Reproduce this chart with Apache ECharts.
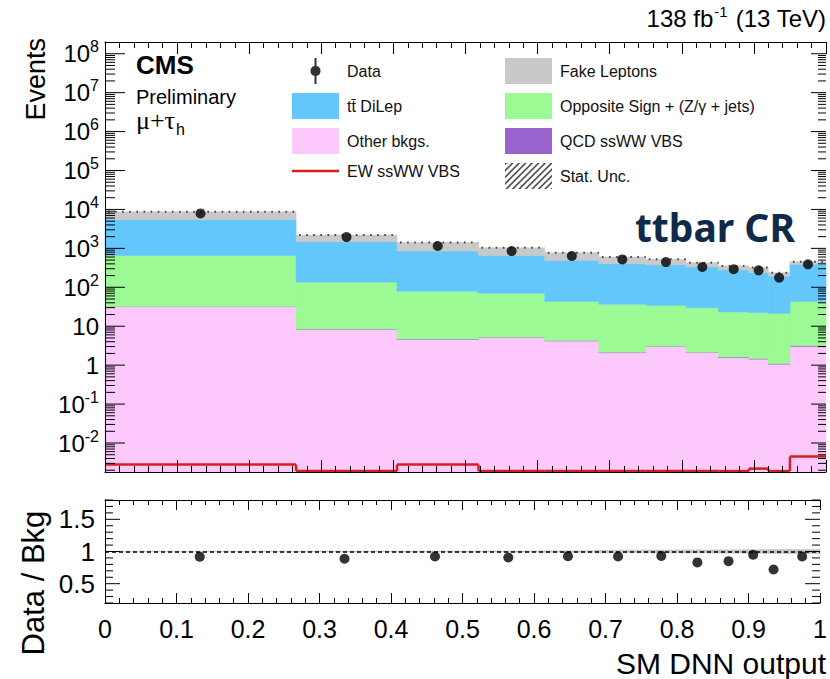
<!DOCTYPE html>
<html><head><meta charset="utf-8">
<script src="https://cdn.jsdelivr.net/npm/echarts@6.0.0/dist/echarts.min.js"></script>
<style>html,body{margin:0;padding:0;background:#fff}#c{width:830px;height:679px}</style>
</head><body><div id="c"></div>
<script>
// ---------------- data ----------------
const binEdges = [0, 0.265, 0.405, 0.518, 0.61, 0.685, 0.75, 0.806, 0.851, 0.893, 0.92, 0.95, 1.0];
const dataEvents  = [7900, 1950, 1150, 850, 635, 520, 445, 332, 290, 273, 177, 389];
const otherBkgs   = [32, 8.4, 4.6, 5.1, 4.2, 2.1, 3.0, 2.1, 1.57, 1.43, 1.06, 3.0];
const qcdSsWW     = [0.3, 0.1, 0.1, 0.1, 0.08, 0.06, 0.06, 0.05, 0.05, 0.05, 0.04, 0.15];
const oppSign     = [628, 128, 75, 65, 39, 34.5, 31.5, 28, 21.7, 21, 20.4, 40];
const ttDiLep     = [4840, 1353, 773, 592, 449, 368, 343, 302, 255, 216, 173, 346];
const fakeLeptons = [3200, 700, 560, 378, 284, 193, 144, 98, 74, 82, 43, 67];
const ewSsWW      = [0.0028, 0.0019, 0.0028, 0.0019, 0.0019, 0.0019, 0.0019, 0.0019, 0.0019, 0.0022, 0.0019, 0.0045];
const ratioValues = [0.92, 0.888, 0.922, 0.907, 0.927, 0.922, 0.932, 0.83, 0.85, 0.95, 0.72, 0.922];
const statUncRel  = [0.004, 0.006, 0.007, 0.008, 0.01, 0.02, 0.022, 0.024, 0.025, 0.028, 0.03, 0.03];

const xTickLabels = ['0','0.1','0.2','0.3','0.4','0.5','0.6','0.7','0.8','0.9','1'];
const yTickValues = [1e-2, 1e-1, 1, 10, 1e2, 1e3, 1e4, 1e5, 1e6, 1e7, 1e8];
const yTickLabels = ['10^-2','10^-1','1','10','10^2','10^3','10^4','10^5','10^6','10^7','10^8'];
const ratioTickValues = [0.5, 1, 1.5];
const ratioTickLabels = ['0.5','1','1.5'];

const NAME_TT = 'tt\u0304 DiLep';
const NAME_OS = 'Opposite Sign + (Z/\u03b3 + jets)';

// ---------------- helpers ----------------
const Y_MIN = 0.0018, Y_MAX = 2e8;
const R_MIN = 0.2, R_MAX = 1.8;
const nb = binEdges.length - 1;
const centers = binEdges.slice(0, -1).map((e, i) => (e + binEdges[i + 1]) / 2);
const FONT = '"Liberation Sans", Arial, Helvetica, sans-serif';

function renderBox(params, api) {
  const a = api.coord([api.value(0), api.value(3)]);
  const b = api.coord([api.value(1), api.value(2)]);
  const col = api.visual('color');
  return {type: 'rect', shape: {x: a[0], y: a[1], width: b[0] - a[0], height: b[1] - a[1]},
          style: {fill: col, stroke: col, lineWidth: 0.6}};
}

const stackDefs = [
  {name: 'Other bkgs.', vals: otherBkgs, color: '#fdc9fd'},
  {name: 'QCD ssWW VBS', vals: qcdSsWW, color: '#9a62cc'},
  {name: NAME_OS, vals: oppSign, color: '#9bfa93'},
  {name: NAME_TT, vals: ttDiLep, color: '#63c7fb'},
  {name: 'Fake Leptons', vals: fakeLeptons, color: '#c9c9c9'}
];
const cum = new Array(nb).fill(0);
const stackSeries = stackDefs.map(c => {
  const data = [];
  for (let i = 0; i < nb; i++) {
    const lo = cum[i], hi = cum[i] + c.vals[i];
    data.push([binEdges[i], binEdges[i + 1], Math.max(lo, Y_MIN), hi]);
    cum[i] = hi;
  }
  return {type: 'custom', name: c.name, xAxisIndex: 0, yAxisIndex: 0, itemStyle: {color: c.color},
          encode: {x: [0, 1], y: [2, 3]}, renderItem: renderBox, data: data, z: 2, silent: true};
});
const totalBkg = cum.slice();

function renderStep(params, api) {
  const i = params.dataIndex;
  const x0 = api.value(0), x1 = api.value(1), v = api.value(2);
  const p0 = api.coord([x0, v]), p1 = api.coord([x1, v]);
  const st = {stroke: '#d41f1f', lineWidth: 2.5};
  const ch = [{type: 'line', shape: {x1: p0[0], y1: p0[1], x2: p1[0], y2: p1[1]}, style: st}];
  if (i < nb - 1) {
    const pn = api.coord([x1, ewSsWW[i + 1]]);
    ch.push({type: 'line', shape: {x1: p1[0], y1: p1[1], x2: pn[0], y2: pn[1]}, style: st});
  }
  return {type: 'group', children: ch};
}

function renderDotted(params, api) {
  const p0 = api.coord([api.value(0), api.value(2)]);
  const p1 = api.coord([api.value(1), api.value(2)]);
  return {type: 'line', shape: {x1: p0[0] + 3, y1: p0[1], x2: p1[0], y2: p1[1]},
          style: {stroke: '#444', lineWidth: 2, lineDash: [1.6, 5.5]}};
}

function tickRender(lenL, lenR) {
  return function (params, api) {
    const cs = params.coordSys;
    const y = api.coord([api.value(0), api.value(1)])[1];
    return {type: 'group', children: [
      {type: 'line', shape: {x1: cs.x, y1: y, x2: cs.x + lenL, y2: y}, style: {stroke: '#000', lineWidth: 1}},
      {type: 'line', shape: {x1: cs.x + cs.width - lenR, y1: y, x2: cs.x + cs.width, y2: y}, style: {stroke: '#000', lineWidth: 1}}
    ]};
  };
}
function tickSeries(xi, yi, vals, lenL, lenR) {
  return {type: 'custom', xAxisIndex: xi, yAxisIndex: yi, silent: true, z: 6,
          encode: {x: 0, y: 1}, data: vals.map(v => [0.5, v]), renderItem: tickRender(lenL, lenR)};
}

const yMinor = [];
for (let e = -3; e <= 8; e++) for (let m = 2; m <= 9; m++) {
  const v = m * Math.pow(10, e);
  if (v > Y_MIN && v < Y_MAX) yMinor.push(v);
}
const rMinor = [];
for (let k = 2; k <= 18; k++) { if (k % 5 !== 0) rMinor.push(k / 10); }

function clipPoly(pts, W, H) {
  const edges = [
    [p => p[0] >= 0, (a, b) => { const t = (0 - a[0]) / (b[0] - a[0]); return [0, a[1] + t * (b[1] - a[1])]; }],
    [p => p[0] <= W, (a, b) => { const t = (W - a[0]) / (b[0] - a[0]); return [W, a[1] + t * (b[1] - a[1])]; }],
    [p => p[1] >= 0, (a, b) => { const t = (0 - a[1]) / (b[1] - a[1]); return [a[0] + t * (b[0] - a[0]), 0]; }],
    [p => p[1] <= H, (a, b) => { const t = (H - a[1]) / (b[1] - a[1]); return [a[0] + t * (b[0] - a[0]), H]; }]
  ];
  let out = pts;
  for (const [inside, inter] of edges) {
    const inp = out; out = [];
    for (let i = 0; i < inp.length; i++) {
      const cur = inp[i], prev = inp[(i + inp.length - 1) % inp.length];
      if (inside(cur)) { if (!inside(prev)) out.push(inter(prev, cur)); out.push(cur); }
      else if (inside(prev)) out.push(inter(prev, cur));
    }
    if (!out.length) break;
  }
  return out;
}
function hatchIcon() {
  const W = 47, H = 26, step = 6.5, w = 2.4;
  let d = '';
  for (let k = -H; k < W + H; k += step) {
    const poly = clipPoly([[k, H], [k + H, 0], [k + H + w, 0], [k + w, H]], W, H);
    if (poly.length >= 3) d += 'M' + poly.map(p => p[0].toFixed(2) + ',' + p[1].toFixed(2)).join('L') + 'Z';
  }
  d += 'M0,0L0.01,0L0,0.01ZM47,26L46.99,26L47,25.99Z';
  return 'path://' + d;
}
const dataIcon = 'path://M9,0L11,0L11,8.1A5,5,0,0,1,11,17.9L11,26L9,26L9,17.9A5,5,0,0,1,9,8.1Z';
const lineIcon = 'path://M0,0L47,0L47,2.5L0,2.5Z';

function yLabelFmt(v) {
  const e = Math.log10(v);
  const idx = yTickValues.findIndex(t => Math.abs(Math.log10(t) - e) < 1e-6);
  if (idx < 0) return '';
  const lab = yTickLabels[idx];
  const p = lab.indexOf('^');
  return p < 0 ? '{b|' + lab + '}' : '{b|' + lab.slice(0, p) + '}{s|' + lab.slice(p + 1) + '}';
}

const xCommon = {type: 'value', min: 0, max: 1, interval: 0.1, z: 5, splitLine: {show: false},
                 axisLine: {lineStyle: {color: '#000', width: 1}}};
const yRatioCommon = {type: 'value', min: R_MIN, max: R_MAX, gridIndex: 1, z: 5, splitLine: {show: false},
                      axisTick: {show: false}, axisLine: {show: true, lineStyle: {color: '#000', width: 1}}};
const yLogCommon = {type: 'log', logBase: 10, min: Y_MIN, max: Y_MAX, gridIndex: 0, z: 5, splitLine: {show: false},
                    axisTick: {show: false}, axisLine: {show: true, lineStyle: {color: '#000', width: 1}}};

const option = {
  animation: false,
  backgroundColor: '#fff',
  grid: [
    {left: 105, right: 4, top: 42, height: 430},
    {left: 105, right: 4, top: 500, height: 103}
  ],
  xAxis: [
    Object.assign({}, xCommon, {gridIndex: 0, position: 'bottom', axisLabel: {show: false},
      axisTick: {inside: true, length: 12, lineStyle: {color: '#000'}},
      minorTick: {show: true, splitNumber: 5, length: 6, lineStyle: {color: '#000'}}}),
    Object.assign({}, xCommon, {gridIndex: 0, position: 'top', axisLabel: {show: false},
      axisTick: {inside: true, length: 12, lineStyle: {color: '#000'}},
      minorTick: {show: true, splitNumber: 5, length: 6, lineStyle: {color: '#000'}}}),
    Object.assign({}, xCommon, {gridIndex: 1, position: 'bottom',
      axisLabel: {show: true, margin: 13, fontSize: 25, fontFamily: FONT, color: '#000',
        formatter: v => xTickLabels[Math.round(v * 10)]},
      axisTick: {inside: true, length: 10, lineStyle: {color: '#000'}},
      minorTick: {show: true, splitNumber: 5, length: 5, lineStyle: {color: '#000'}}}),
    Object.assign({}, xCommon, {gridIndex: 1, position: 'top', axisLabel: {show: false},
      axisTick: {inside: true, length: 10, lineStyle: {color: '#000'}},
      minorTick: {show: true, splitNumber: 5, length: 5, lineStyle: {color: '#000'}}})
  ],
  yAxis: [
    Object.assign({}, yLogCommon, {position: 'left',
      axisLabel: {show: true, margin: 6, customValues: yTickValues, formatter: yLabelFmt,
        rich: {b: {fontSize: 24, fontFamily: FONT, color: '#000'},
               s: {fontSize: 16, fontFamily: FONT, color: '#000', padding: [0, 0, 14, 0]}}}}),
    Object.assign({}, yLogCommon, {position: 'right', axisLabel: {show: false}}),
    Object.assign({}, yRatioCommon, {position: 'left',
      axisLabel: {show: true, margin: 10, customValues: ratioTickValues, fontSize: 26, fontFamily: FONT, color: '#000',
        formatter: v => { const i = ratioTickValues.findIndex(t => Math.abs(t - v) < 1e-6); return i < 0 ? '' : ratioTickLabels[i]; }}}),
    Object.assign({}, yRatioCommon, {position: 'right', axisLabel: {show: false}})
  ],
  legend: [
    {left: 287, top: 53, orient: 'vertical', itemWidth: 47, itemHeight: 26, itemGap: 9, selectedMode: false,
     textStyle: {fontSize: 16, fontFamily: FONT, color: '#111', padding: [0, 0, 0, 3]},
     data: [{name: 'Data', icon: dataIcon}, {name: NAME_TT, icon: 'rect'}, {name: 'Other bkgs.', icon: 'rect'},
            {name: 'EW ssWW VBS', icon: lineIcon}]},
    {left: 500, top: 53, orient: 'vertical', itemWidth: 47, itemHeight: 26, itemGap: 9, selectedMode: false,
     textStyle: {fontSize: 16, fontFamily: FONT, color: '#111', padding: [0, 0, 0, 3]},
     data: [{name: 'Fake Leptons', icon: 'rect'}, {name: NAME_OS, icon: 'rect'}, {name: 'QCD ssWW VBS', icon: 'rect'},
            {name: 'Stat. Unc.', icon: hatchIcon()}]}
  ],
  series: [
    ...stackSeries,
    {type: 'custom', name: 'Stat. Unc.', xAxisIndex: 0, yAxisIndex: 0, itemStyle: {color: '#555'}, silent: true, z: 3,
     encode: {x: [0, 1], y: 2}, renderItem: renderDotted,
     data: totalBkg.map((t, i) => [binEdges[i], binEdges[i + 1], t])},
    {type: 'custom', name: 'EW ssWW VBS', xAxisIndex: 0, yAxisIndex: 0, itemStyle: {color: '#d41f1f'}, silent: true, z: 4,
     encode: {x: [0, 1], y: 2}, renderItem: renderStep,
     data: ewSsWW.map((v, i) => [binEdges[i], binEdges[i + 1], v])},
    {type: 'scatter', name: 'Data', xAxisIndex: 0, yAxisIndex: 0, symbol: 'circle', symbolSize: 10, z: 8,
     itemStyle: {color: '#000'}, data: dataEvents.map((v, i) => [centers[i], v])},
    {type: 'custom', name: 'ratioBand', xAxisIndex: 2, yAxisIndex: 2, itemStyle: {color: '#c2c2c2'}, silent: true, z: 2,
     encode: {x: [0, 1], y: [2, 3]}, renderItem: renderBox,
     data: statUncRel.map((u, i) => [binEdges[i], binEdges[i + 1], 1 - u, 1 + u])},
    {type: 'scatter', name: 'ratio', xAxisIndex: 2, yAxisIndex: 2, symbol: 'circle', symbolSize: 10, z: 8,
     itemStyle: {color: '#000'}, data: ratioValues.map((v, i) => [centers[i], v]),
     markLine: {silent: true, symbol: ['none', 'none'], label: {show: false},
       lineStyle: {color: '#000', type: [4, 3], width: 1.5}, data: [{yAxis: 1}]}},
    tickSeries(0, 0, yMinor, 10, 8),
    tickSeries(0, 0, yTickValues, 20, 15),
    tickSeries(2, 2, rMinor, 8, 8),
    tickSeries(2, 2, ratioTickValues, 15, 15)
  ],
  graphic: [
    {type: 'text', x: 36, y: 38, rotation: Math.PI / 2,
     style: {text: 'Events', fontSize: 27, fontFamily: FONT, fill: '#000', align: 'right', verticalAlign: 'middle', textAlign: 'right', textVerticalAlign: 'middle'}},
    {type: 'text', x: 33, y: 583, rotation: Math.PI / 2,
     style: {text: 'Data / Bkg', fontSize: 31, fontFamily: FONT, fill: '#000', align: 'center', verticalAlign: 'middle', textAlign: 'center', textVerticalAlign: 'middle'}},
    {type: 'text', x: 826, y: 663,
     style: {text: 'SM DNN output', fontSize: 30, fontFamily: FONT, fill: '#000', align: 'right', verticalAlign: 'middle', textAlign: 'right', textVerticalAlign: 'middle'}},
    {type: 'text', x: 136, y: 65,
     style: {text: 'CMS', fontSize: 26, fontWeight: 'bold', fontFamily: FONT, fill: '#000', align: 'left', verticalAlign: 'middle', textAlign: 'left', textVerticalAlign: 'middle'}},
    {type: 'text', x: 136, y: 97,
     style: {text: 'Preliminary', fontSize: 20, fontFamily: FONT, fill: '#000', align: 'left', verticalAlign: 'middle', textAlign: 'left', textVerticalAlign: 'middle'}},
    {type: 'text', x: 136, y: 120,
     style: {text: '{g|\u03bc+\u03c4}{h|h}', fill: '#000', align: 'left', verticalAlign: 'middle', textAlign: 'left', textVerticalAlign: 'middle',
       rich: {g: {fontSize: 26, fontFamily: '"Liberation Serif", "DejaVu Serif", serif', fill: '#000'},
              h: {fontSize: 16, fontFamily: FONT, fill: '#000', padding: [18, 0, 0, 1]}}}},
    {type: 'text', x: 826, y: 18,
     style: {text: '138 fb{s|-1} (13 TeV)', fontSize: 24, fontFamily: FONT, fill: '#000', align: 'right', verticalAlign: 'middle', textAlign: 'right', textVerticalAlign: 'middle',
       rich: {s: {fontSize: 15, fontFamily: FONT, fill: '#000', padding: [0, 1, 13, 1]}}}},
    {type: 'text', x: 795, y: 226,
     style: {text: 'ttbar CR', fontSize: 39, fontWeight: 'bold', fontFamily: '"Noto Sans", "Open Sans", sans-serif', fill: '#102a49', align: 'right', verticalAlign: 'middle', textAlign: 'right', textVerticalAlign: 'middle'}}
  ]
};

const chart = echarts.init(document.getElementById('c'), null, {renderer: 'svg'});
chart.setOption(option);
</script>
</body></html>
